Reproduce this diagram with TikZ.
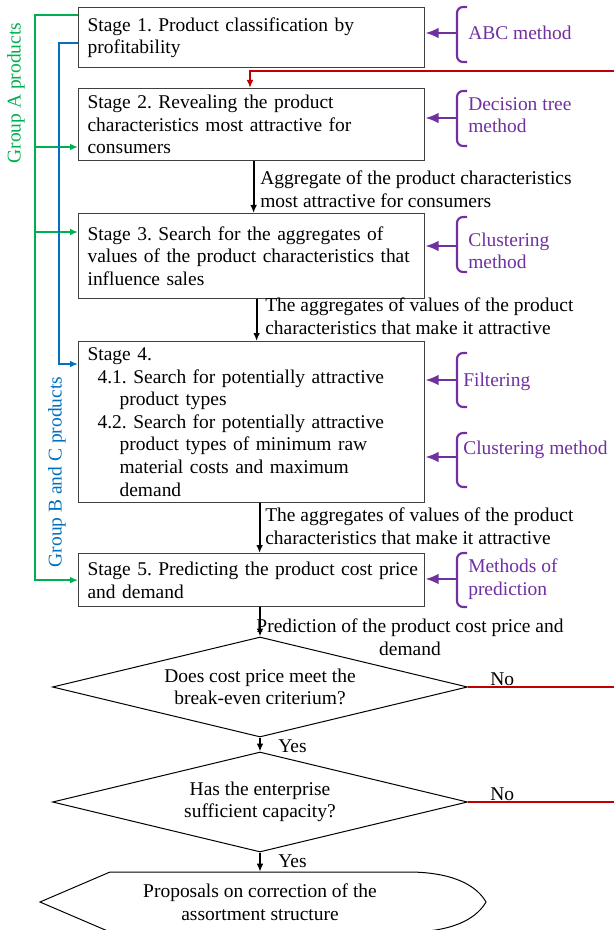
\documentclass[tikz,border=0pt]{standalone}
\usepackage{fontspec}
\setmainfont{Liberation Serif}
\usetikzlibrary{shapes.geometric,arrows.meta}
\definecolor{pgreen}{RGB}{0,176,80}
\definecolor{pblue}{RGB}{0,112,192}
\definecolor{pred}{RGB}{192,0,0}
\definecolor{ppurple}{RGB}{112,48,160}
\frenchspacing
\begin{document}
\begin{tikzpicture}[x=0.75pt,y=-0.75pt,
  font=\fontsize{14.6}{16.9}\selectfont,
  stage/.style={draw=black!75, line width=0.9pt, anchor=north west,
    text width=246pt, inner xsep=6.75pt, inner ysep=0pt, align=left},
  dec/.style={diamond, draw, line width=0.75pt, minimum width=311.25pt,
    minimum height=75pt, inner sep=0pt, align=center, shape aspect=4.15},
  lbl/.style={inner sep=0pt, align=left, anchor=west},
  meth/.style={inner sep=0pt, align=left, anchor=west, text=ppurple},
  barrow/.style={line width=1.5pt, -{Latex[length=6pt,width=5pt]}},
  garrow/.style={draw=pgreen, line width=1.5pt, -{Latex[length=6pt,width=5pt]}},
  bline/.style={draw=pblue, line width=1.5pt, -{Latex[length=6pt,width=5pt]}},
  rline/.style={draw=pred, line width=1.8pt},
  parrow/.style={draw=ppurple, line width=2pt, -{Latex[length=10pt,width=8pt]}},
  pbrace/.style={draw=ppurple, line width=1.6pt, rounded corners=4.5pt},
]
\useasboundingbox (0,0) rectangle (614,930);

% stages
\node[stage, minimum height=45pt] (s1) at (78,7)
  {\mbox{Stage 1. Product classification by}\\profitability};
\node[stage, minimum height=54pt] (s2) at (78,88)
  {\mbox{Stage 2. Revealing the product}\\\mbox{characteristics most attractive for}\\consumers};
\node[stage, minimum height=63.75pt] (s3) at (78,213)
  {\mbox{Stage 3. Search for the aggregates of}\\\mbox{values of the product characteristics that}\\influence sales};
\node[stage, minimum height=120.75pt] (s4) at (78,341)
  {Stage 4.\\
   \hspace*{7.5pt}\mbox{4.1. Search for potentially attractive}\\
   \hspace*{24pt}product types\\
   \hspace*{7.5pt}\mbox{4.2. Search for potentially attractive}\\
   \hspace*{24pt}\mbox{product types of minimum raw}\\
   \hspace*{24pt}\mbox{material costs and maximum}\\
   \hspace*{24pt}demand};
\node[stage, minimum height=39.75pt] (s5) at (78,553)
  {\mbox{Stage 5. Predicting the product cost price}\\and demand};

% decisions
\node[dec] (d1) at (260,687) {Does cost price meet the\\break-even criterium?};
\node[dec] (d2) at (260,802) {Has the enterprise\\sufficient capacity?};

% display shape
\node[minimum height=45pt, minimum width=300pt, inner sep=0pt, align=center] (prop) at (260,902)
  {Proposals on correction of the\\assortment structure};
\draw[line width=0.75pt] (40,902) -- (110,872) -- (412,872)
  .. controls (458,873) and (478,888) .. (486,902)
  .. controls (478,916) and (458,931) .. (412,932) -- (110,932) -- cycle;

% black arrows and labels
\draw[barrow] ([xshift=1.5pt]s2.south) -- ([xshift=1.5pt]s3.north);
\draw[barrow] ([xshift=3.75pt]s3.south) -- ([xshift=3.75pt]s4.north);
\draw[barrow] ([xshift=6pt]s4.south) -- ([xshift=6pt]s5.north);
\draw[barrow] (d1.north |- s5.south) -- (d1.north);
\draw[barrow] (d1.south) -- (d2.north);
\draw[barrow] (d2.south) -- (prop.north);

\node[lbl] (l1) at (260,189) {Aggregate of the product characteristics\\most attractive for consumers};
\node[lbl] (l2) at (265,316) {The aggregates of values of the product\\characteristics that make it attractive};
\node[lbl] (l3) at (265,526) {The aggregates of values of the product\\characteristics that make it attractive};
\node[inner sep=0pt, align=center] (l4) at (410,637) {Prediction of the product cost price and\\demand};
\node[lbl] (y1) at (278,746) {Yes};
\node[lbl] (y2) at (278,861) {Yes};
\node[lbl] (n1) at (490,679) {No};
\node[lbl] (n2) at (490,794) {No};

% red lines
\coordinate (rin) at (614,71);
\coordinate (rc) at (250,71);
\coordinate (redge) at (614,0);
\draw[rline, -{Latex[length=6pt,width=5pt]}] (rin) -- (rc) -- (rc |- s2.north);
\draw[rline] (d1.east) -- (d1.east -| redge);
\draw[rline] (d2.east) -- (d2.east -| redge);

% green lines
\coordinate (gtop) at (35,15);
\coordinate (g2) at (35,147);
\coordinate (g3) at (35,232);
\draw[garrow] (s1.west |- gtop) -- (gtop) |- (s5.west);
\draw[garrow] (g2) -- (g2 -| s2.west);
\draw[garrow] (g3) -- (g3 -| s3.west);
\node[rotate=90, text=pgreen, inner sep=0pt] (ga) at (16,93) {Group A products};

% blue line
\coordinate (btop) at (59,43);
\coordinate (b4) at (59,364);
\draw[bline] (s1.west |- btop) -- (btop) -- (b4) -- (b4 -| s4.west);
\node[rotate=90, text=pblue, inner sep=0pt] (gb) at (57,472) {Group B and C products};

% methods
\foreach \t/\b/\m/\n in {7/62/33/1, 91/146/118/2, 217/272/246/3, 353/407/380/4, 433/487/457/5, 553/607/579/6}{
  \draw[pbrace] (467,\t) -- (457,\t) -- (457,\b) -- (467,\b);
  \coordinate (pm\n) at (457,\m);
}
\draw[parrow] (pm1) -- (pm1 -| s1.east);
\draw[parrow] (pm2) -- (pm2 -| s2.east);
\draw[parrow] (pm3) -- (pm3 -| s3.east);
\draw[parrow] (pm4) -- (pm4 -| s4.east);
\draw[parrow] (pm5) -- (pm5 -| s4.east);
\draw[parrow] (pm6) -- (pm6 -| s5.east);
\node[meth] (m1) at (468,33) {ABC method};
\node[meth] (m2) at (468,115) {Decision tree\\method};
\node[meth] (m3) at (468,251) {Clustering\\method};
\node[meth] (m4) at (463,382) {Filtering};
\node[meth] (m5) at (463,450) {Clustering method};
\node[meth] (m6) at (468,579) {Methods of\\prediction};
\end{tikzpicture}
\end{document}
